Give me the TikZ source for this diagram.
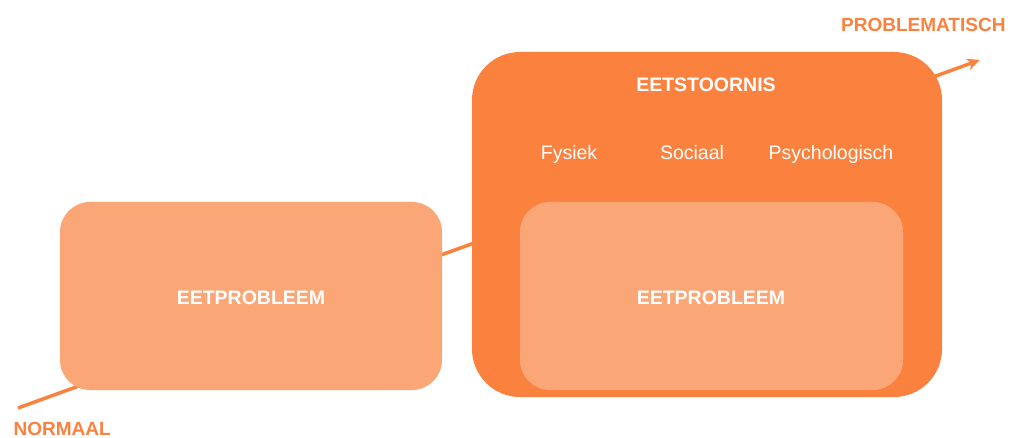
\documentclass[tikz,border=0pt]{standalone}
\usepackage{fontspec}
\setmainfont{Liberation Sans}
\usetikzlibrary{arrows.meta}
\definecolor{donker}{RGB}{251,129,62}
\definecolor{licht}{RGB}{251,166,118}
\tikzset{
  blok/.style={rounded corners=30pt, inner sep=0pt},
  kop/.style={font=\fontsize{19.5}{21}\selectfont\bfseries, text=white, anchor=base},
  sub/.style={font=\fontsize{19.5}{21}\selectfont, text=white, anchor=base},
  eind/.style={font=\fontsize{19}{21}\selectfont\bfseries, text=donker},
}
\begin{document}
\begin{tikzpicture}[x=1pt,y=-1pt]
      \useasboundingbox (0,0) rectangle (1011,438);
      \coordinate (start) at (18,408);
      \coordinate (eind) at (980,60);
      \draw[donker, line width=3.5pt, -{Stealth[length=13pt,width=12pt]}] (start) -- (eind);
      \node[blok, fill=licht, minimum width=382pt, minimum height=188pt] (probleem) at (251,296) {};
      \node[blok, fill=donker, rounded corners=48pt, minimum width=470pt, minimum height=345pt] (stoornis) at (707,224.5) {};
      \node[blok, fill=licht, minimum width=383pt, minimum height=188pt] (kern) at (711.5,296) {};
      \node[kop] (probleemtekst) at (251,304) {EETPROBLEEM};
      \node[kop] (kerntekst) at (711,304) {EETPROBLEEM};
      \node[kop] (stoornistekst) at (706,92) {EETSTOORNIS};
      \node[sub] (fysiek) at (569,160) {Fysiek};
      \node[sub] (sociaal) at (692,160) {Sociaal};
      \node[sub] (psycho) at (831,160) {Psychologisch};
      \node[eind, anchor=base east] (problematisch) at (1009,31.5) {PROBLEMATISCH};
      \node[eind, anchor=base west] (normaal) at (10,435) {NORMAAL};
    \end{tikzpicture}
\end{document}
